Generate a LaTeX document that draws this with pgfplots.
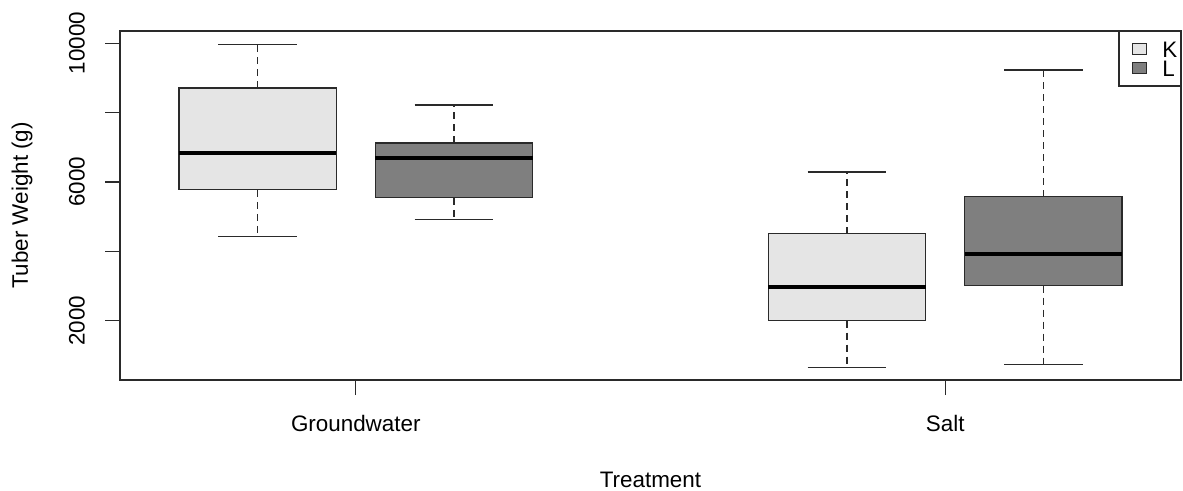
\documentclass[border=0pt]{standalone}
\usepackage{pgfplots}
\pgfplotsset{compat=1.18}
\usepackage{fontspec}
\setmainfont{Liberation Sans}
\definecolor{lightbox}{HTML}{E5E5E5}
\definecolor{darkbox}{HTML}{7F7F7F}
\definecolor{linec}{HTML}{2A2A2A}
\begin{document}
\fontsize{22.4pt}{26pt}\selectfont
\begin{tikzpicture}
\useasboundingbox (0pt,0pt) rectangle (1183pt,490pt);
\begin{axis}[
  at={(120pt,110pt)}, anchor=south west,
  scale only axis, width=1061pt, height=349pt,
  xmin=0.3, xmax=5.7, ymin=290, ymax=10350,
  scaled y ticks=false,
  axis line style={draw=linec, line width=1.2pt},
  tick style={draw=linec, line width=1.2pt},
  tick align=outside, major tick length=15pt,
  xtick pos=bottom, ytick pos=left,
  xtick={1.5,4.5}, xticklabels={Groundwater,Salt},
  ytick={2000,4000,6000,8000,10000},
  yticklabels={2000,,6000,,10000},
  /pgf/number format/assume math mode=true,
  ticklabel style={font=\fontsize{22.4pt}{26pt}\selectfont},
  yticklabel style={xshift=-20pt, rotate=90, anchor=south, inner sep=0pt},
  xticklabel style={yshift=-20pt, anchor=north, inner sep=0pt},
  xlabel={Treatment}, ylabel={Tuber Weight (g)},
  label style={font=\fontsize{22.4pt}{26pt}\selectfont, inner sep=0pt},
  xlabel style={at={(axis description cs:0.5,-0.2851)}, anchor=center},
  ylabel style={at={(axis description cs:-0.0924,0.5)}, anchor=center},
  legend style={at={(1,1)}, anchor=north east, draw=linec, line width=1.2pt,
    inner xsep=3pt, inner ysep=10pt, row sep=3.5pt, column sep=15pt,
    font=\fontsize{22.4pt}{26pt}\selectfont,
    nodes={inner sep=0pt, text height=15.5pt, text depth=0pt}},
  legend cell align=left,
  legend image code/.code={%
    \path[draw=none, fill=none] (0pt,-5.5pt) rectangle (25pt,5.5pt);
    \draw[draw=linec, line width=1pt, #1] (11pt,-5.5pt) rectangle (25pt,5.5pt);
  },
  unbounded coords=jump,
]
\addlegendimage{fill=lightbox}
\addlegendentry{K}
\addlegendimage{fill=darkbox}
\addlegendentry{L}
% boxes (lower quartile to upper quartile, width 0.8)
\addplot[forget plot, fill=lightbox, draw=linec, line width=1.2pt]
  coordinates {(0.6,5770) (1.4,5770) (1.4,8705) (0.6,8705)} -- cycle;
\addplot[forget plot, fill=darkbox, draw=linec, line width=1.2pt]
  coordinates {(1.6,5540) (2.4,5540) (2.4,7122) (1.6,7122)} -- cycle;
\addplot[forget plot, fill=lightbox, draw=linec, line width=1.2pt]
  coordinates {(3.6,2000) (4.4,2000) (4.4,4504) (3.6,4504)} -- cycle;
\addplot[forget plot, fill=darkbox, draw=linec, line width=1.2pt]
  coordinates {(4.6,3007) (5.4,3007) (5.4,5568) (4.6,5568)} -- cycle;
% medians
\addplot[forget plot, draw=black, line width=4pt] coordinates {
  (0.6,6835) (1.4,6835) (1.5,nan)
  (1.6,6691) (2.4,6691) (2.5,nan)
  (3.6,2978) (4.4,2978) (4.5,nan)
  (4.6,3928) (5.4,3928)};
% whiskers (dashed)
\addplot[forget plot, draw=linec, line width=1.2pt, dash pattern=on 7pt off 5pt] coordinates {
  (1,8705) (1,9970) (1,nan) (1,5770) (1,4417) (1.5,nan)
  (2,7122) (2,8216) (2,nan) (2,5540) (2,4906) (2.5,nan)
  (4,4504) (4,6288) (4,nan) (4,2000) (4,645) (4.5,nan)
  (5,5568) (5,9223) (5,nan) (5,3007) (5,734)};
% whisker caps
\addplot[forget plot, draw=linec, line width=1.2pt] coordinates {
  (0.8,9970) (1.2,9970) (1.3,nan) (0.8,4417) (1.2,4417) (1.5,nan)
  (1.8,8216) (2.2,8216) (2.3,nan) (1.8,4906) (2.2,4906) (2.5,nan)
  (3.8,6288) (4.2,6288) (4.3,nan) (3.8,645) (4.2,645) (4.5,nan)
  (4.8,9223) (5.2,9223) (5.3,nan) (4.8,734) (5.2,734)};
\end{axis}
\end{tikzpicture}
\end{document}
